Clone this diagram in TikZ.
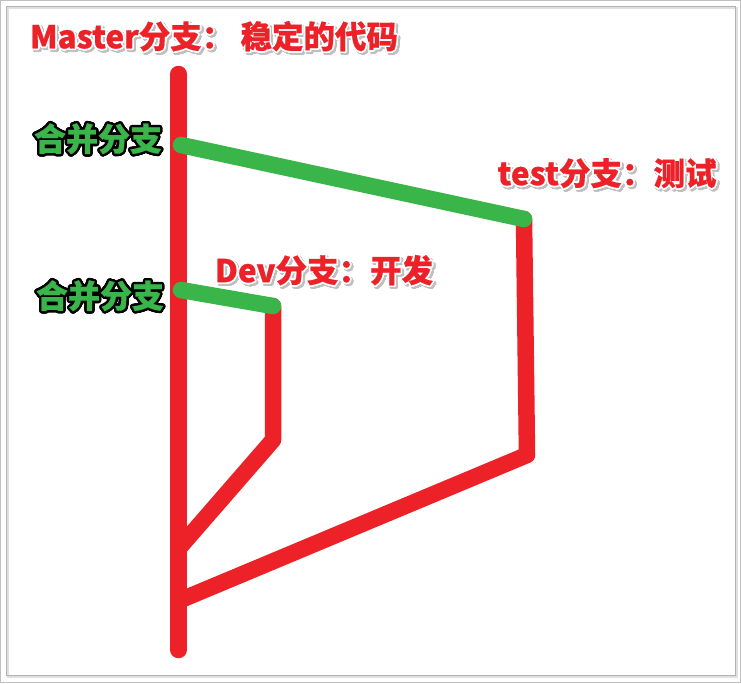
\documentclass[tikz,border=0pt]{standalone}
\usepackage{fontspec}
\usepackage{contour}
\newfontfamily\cjk{Noto Sans CJK SC}[BoldFeatures={FakeBold=0.6}]
\definecolor{gitred}{RGB}{237,34,40}
\definecolor{gitgreen}{RGB}{57,181,74}
\contournumber{24}
\newcommand\redtxt[1]{\contourlength{1.6pt}\makebox[0pt][l]{\hspace{2pt}\raisebox{-2pt}{\contour{black!25}{\textcolor{black!25}{#1}}}}\contour{white}{\textcolor{gitred}{#1}}}
\newcommand\greentxt[1]{\contourlength{2.4pt}\contour{black}{\textcolor{gitgreen}{#1}}}

\begin{document}
\begin{tikzpicture}
[x=1pt, y=-1pt,
    branch/.style={draw=gitred, line width=16.5pt, line cap=round, line join=round},
    merge/.style={draw=gitgreen, line width=16.5pt, line cap=round},
    label/.style={inner sep=0pt, font=\cjk\bfseries\fontsize{31.5}{36}\selectfont}]
\useasboundingbox (0,0) rectangle (741,683);
\draw[black!25] (0.5,0.5) rectangle (740.5,682.5);
\draw[black!12, line width=2pt] (8,8) rectangle (737,677);
\draw[black!30] (6,6) rectangle (735.5,675.5);

\coordinate (mtop) at (178.5,74);
\coordinate (mbot) at (178.5,650);
\coordinate (m1) at (181,145);
\coordinate (m2) at (181,290);
\coordinate (m3) at (180,547);
\coordinate (m4) at (183,599);
\coordinate (t1) at (524,219);
\coordinate (t2) at (527,455);
\coordinate (d1) at (273,306);
\coordinate (d2) at (273,440);

\draw[branch] (mtop) -- (mbot);
\draw[branch] (t1) -- (t2) -- (m4);
\draw[branch] (d1) -- (d2) -- (m3);
\draw[merge] (m1) -- (t1);
\draw[merge] (m2) -- (d1);

\node[label] (master) at (214,38) {\redtxt{Master分支： 稳定的代码}};
\node[label] (test) at (607,175) {\redtxt{test分支：测试}};
\node[label] (dev) at (324,272) {\redtxt{Dev分支：开发}};
\node[label, font=\cjk\bfseries\fontsize{32}{36}\selectfont] (merge1) at (98,140) {\greentxt{合并分支}};
\node[label, font=\cjk\bfseries\fontsize{32}{36}\selectfont] (merge2) at (100,297) {\greentxt{合并分支}};
\end{tikzpicture}
\end{document}
